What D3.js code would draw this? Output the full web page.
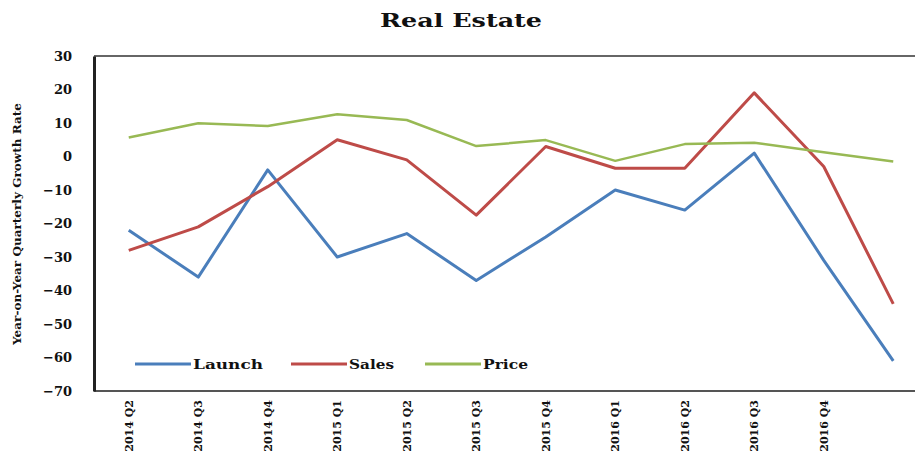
<!DOCTYPE html>
<html>
<head>
<meta charset="utf-8">
<script src="https://cdn.jsdelivr.net/npm/d3@7"></script>
<style>
  body { margin: 0; background: #fff; }
  text { font-family: "DejaVu Serif", "Liberation Serif", serif; font-weight: bold; fill: #111; }
</style>
</head>
<body>
<script>
let quarters = ['2014 Q2', '2014 Q3', '2014 Q4', '2015 Q1', '2015 Q2', '2015 Q3',
                '2015 Q4', '2016 Q1', '2016 Q2', '2016 Q3', '2016 Q4', '2017 Q1'];
// only the first 11 quarters carry a label in the picture
let tickLabels = ['2014 Q2', '2014 Q3', '2014 Q4', '2015 Q1', '2015 Q2', '2015 Q3',
                  '2015 Q4', '2016 Q1', '2016 Q2', '2016 Q3', '2016 Q4'];
let yTicks = [30, 20, 10, 0, -10, -20, -30, -40, -50, -60, -70];
let launch = [-22, -36, -4, -30, -23, -37, -24, -10, -16, 1, -31, -61];
let sales = [-28, -21, -9, 5, -1, -17.5, 3, -3.5, -3.5, 19, -3, -44];
let price = [5.7, 9.9, 9.1, 12.6, 10.9, 3.1, 4.9, -1.3, 3.7, 4.1, 1.3, -1.5];

let width = 915;
let height = 454;
let plotLeft = 94, plotTop = 56, plotBottom = 391;

let series = [
    { name: 'Launch', values: launch, color: '#4a7ebb', w: 3 },
    { name: 'Sales', values: sales, color: '#be4b48', w: 3 },
    { name: 'Price', values: price, color: '#98b954', w: 2.5 }
];

let svg = d3.select('body')
            .append('svg')
            .attr('width', width)
            .attr('height', height);

svg.append('rect').attr('width', width).attr('height', height).attr('fill', '#fff');

// the plot area runs past the right edge of the picture
let xScale = d3.scaleBand()
               .domain(quarters)
               .range([plotLeft, plotLeft + 12 * 69.5]);

let yScale = d3.scaleLinear()
               .domain([-70, 30])
               .range([plotBottom, plotTop]);

let cx = d => xScale(d) + xScale.bandwidth() / 2;

// frame
svg.append('line')
   .attr('x1', plotLeft).attr('x2', width)
   .attr('y1', plotTop).attr('y2', plotTop)
   .attr('stroke', '#666').attr('stroke-width', 2);

let xAxis = d3.axisBottom(xScale)
              .tickSize(0)
              .tickFormat((d, i) => tickLabels[i] || '');
let gx = svg.append('g')
   .attr('transform', 'translate(0,' + plotBottom + ')')
   .call(xAxis);
gx.select('.domain').attr('stroke', '#555').attr('stroke-width', 2)
  .attr('d', 'M' + plotLeft + ',0H' + width);
gx.selectAll('text')
  .attr('transform', 'rotate(-90)')
  .attr('text-anchor', 'end')
  .attr('x', -9)
  .attr('y', 0)
  .attr('dy', '0.35em')
  .style('font-size', '11px');

let yAxis = d3.axisLeft(yScale)
              .tickValues(yTicks)
              .tickSize(0)
              .tickPadding(22)
              .tickFormat(d => d < 0 ? '\u2212' + Math.abs(d) : d);
let gy = svg.append('g')
   .attr('transform', 'translate(' + plotLeft + ',0)')
   .call(yAxis);
gy.select('.domain').attr('stroke', '#222').attr('stroke-width', 3);
gy.selectAll('text').style('font-size', '13px');

// lines
let line = d3.line()
             .x((d, i) => cx(quarters[i]))
             .y(d => yScale(d));

series.forEach(s => {
    svg.append('path')
       .datum(s.values)
       .attr('fill', 'none')
       .attr('stroke', s.color)
       .attr('stroke-width', s.w)
       .attr('stroke-linejoin', 'round')
       .attr('d', line);
});

// legend
let legendX = [135, 291, 425];
let legendW = [70, 45, 45];
let legend = svg.selectAll('.legend')
                .data(series)
                .enter()
                .append('g')
                .attr('class', 'legend')
                .attr('transform', (d, i) => 'translate(' + legendX[i] + ',364)');
legend.append('line')
      .attr('x1', 0).attr('x2', 56)
      .attr('stroke', d => d.color)
      .attr('stroke-width', 3);
legend.append('text')
      .attr('x', 58)
      .attr('dy', '0.35em')
      .attr('textLength', (d, i) => legendW[i])
      .attr('lengthAdjust', 'spacingAndGlyphs')
      .style('font-size', '13px')
      .text(d => d.name);

// title
svg.append('text')
   .attr('x', 461)
   .attr('y', 27)
   .attr('text-anchor', 'middle')
   .attr('textLength', 162)
   .attr('lengthAdjust', 'spacingAndGlyphs')
   .style('font-size', '18px')
   .text('Real Estate');

// y title
svg.append('text')
   .attr('transform', 'translate(21,224) rotate(-90)')
   .attr('text-anchor', 'middle')
   .attr('textLength', 242)
   .attr('lengthAdjust', 'spacingAndGlyphs')
   .style('font-size', '11.5px')
   .text('Year-on-Year Quarterly Growth Rate');
</script>
</body>
</html>
